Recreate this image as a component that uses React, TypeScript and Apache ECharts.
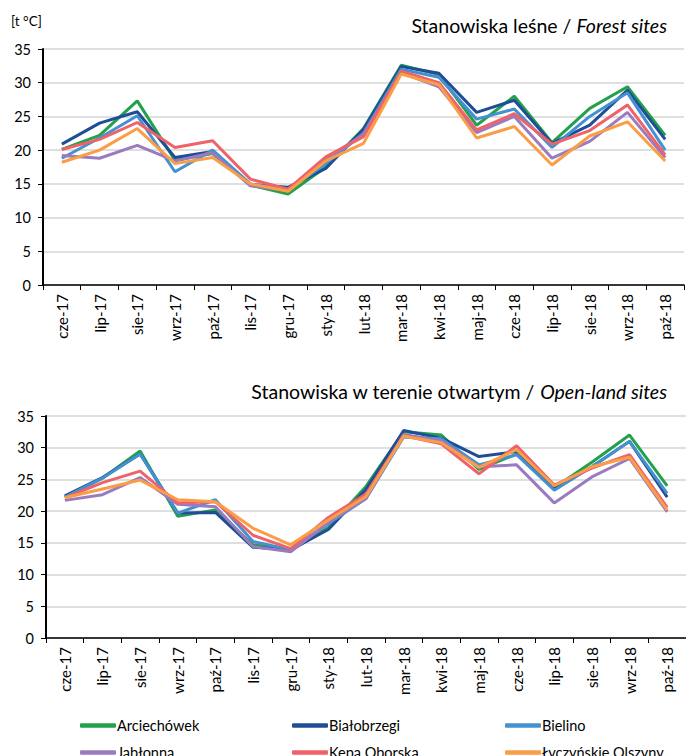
import React, { useEffect, useRef } from "react";
import * as echarts from "echarts";

const categories = [
  "cze-17", "lip-17", "sie-17", "wrz-17", "paź-17", "lis-17", "gru-17", "sty-18", "lut-18",
  "mar-18", "kwi-18", "maj-18", "cze-18", "lip-18", "sie-18", "wrz-18", "paź-18",
];

const siteNames = ["Arciechówek", "Białobrzegi", "Bielino", "Jabłonna", "Kępa Oborska", "Łyczyńskie Olszyny"];
const siteColors = ["#22A04B", "#1F4E96", "#4391D0", "#9A7BBF", "#F0626A", "#F99D47"];

// Forest sites
const forestArciechowek = [20.1, 22.2, 27.3, 18.5, 19.5, 14.8, 13.5, 17.5, 23.2, 32.6, 31.2, 23.7, 28.0, 21.1, 26.2, 29.4, 22.2];
const forestBialobrzegi = [20.9, 24.0, 25.7, 18.9, 19.8, 14.9, 14.5, 17.3, 23.1, 32.4, 31.4, 25.6, 27.4, 21.0, 23.7, 28.9, 21.6];
const forestBielino = [18.8, 21.8, 25.1, 16.8, 20.0, 15.0, 14.1, 18.0, 22.5, 32.0, 30.8, 24.6, 26.1, 20.4, 25.0, 28.5, 20.0];
const forestJablonna = [19.2, 18.8, 20.7, 18.4, 19.6, 14.7, 14.0, 18.7, 22.3, 31.5, 29.4, 22.6, 25.0, 18.8, 21.3, 25.6, 18.9];
const forestKepa = [20.1, 21.6, 24.1, 20.4, 21.4, 15.7, 14.2, 19.0, 22.0, 31.7, 30.0, 23.0, 25.4, 20.9, 22.9, 26.7, 19.3];
const forestLyczynskie = [18.2, 20.0, 23.2, 18.0, 18.9, 15.0, 13.9, 18.4, 21.0, 31.3, 29.7, 21.8, 23.5, 17.8, 22.1, 24.2, 18.4];

// Open-land sites
const openArciechowek = [22.2, 25.2, 29.5, 19.2, 20.2, 14.7, 13.9, 17.4, 23.9, 32.5, 32.0, 26.6, 29.0, 23.7, 27.7, 32.0, 24.0];
const openBialobrzegi = [22.4, 25.3, 29.0, 19.7, 19.8, 14.3, 13.9, 17.1, 23.4, 32.7, 31.5, 28.6, 29.4, 23.7, 27.0, 31.0, 22.2];
const openBielino = [22.2, 25.2, 29.0, 19.7, 21.8, 15.2, 13.9, 18.0, 22.0, 31.7, 31.4, 27.3, 28.9, 23.3, 27.0, 31.0, 22.8];
const openJablonna = [21.7, 22.6, 25.3, 21.1, 20.7, 14.4, 13.6, 18.2, 22.0, 32.1, 31.1, 27.0, 27.3, 21.3, 25.4, 28.3, 19.9];
const openKepa = [22.1, 24.5, 26.3, 21.3, 21.5, 16.2, 14.1, 19.0, 22.7, 31.9, 30.6, 25.9, 30.3, 24.1, 26.8, 28.9, 20.6];
const openLyczynskie = [22.1, 23.5, 24.9, 21.8, 21.5, 17.3, 14.7, 18.6, 22.3, 31.8, 30.8, 26.9, 29.7, 24.0, 27.0, 28.5, 20.2];

const forestData = [forestArciechowek, forestBialobrzegi, forestBielino, forestJablonna, forestKepa, forestLyczynskie];
const openData = [openArciechowek, openBialobrzegi, openBielino, openJablonna, openKepa, openLyczynskie];

const titleTop = "Stanowiska leśne / {i|Forest sites}";
const titleBottom = "Stanowiska w terenie otwartym / {i|Open-land sites}";
const yUnit = "[t °C]";

const FONT = "Lato";

export default function App() {
  const ref = useRef<HTMLDivElement>(null);
  useEffect(() => {
    document.body.style.margin = "0";
    const chart = echarts.init(ref.current!, null, { renderer: "svg" });

    const xAxisBase = (gridIndex: number) => ({
      type: "category",
      gridIndex,
      data: categories,
      boundaryGap: true,
      axisLine: { show: true, lineStyle: { color: "#000", width: 1.5 } },
      axisTick: { show: true, interval: 0, length: 5, lineStyle: { color: "#000", width: 1 } },
      axisLabel: { interval: 0, rotate: 90, color: "#000", fontFamily: FONT, fontSize: 15, margin: 9 },
      splitLine: { show: false },
    });
    const yAxisBase = (gridIndex: number) => ({
      type: "value",
      gridIndex,
      min: 0,
      max: 35,
      interval: 5,
      axisLine: { show: true, lineStyle: { color: "#000", width: 2 } },
      axisTick: { show: true, length: 5, lineStyle: { color: "#000", width: 1 } },
      axisLabel: { color: "#000", fontFamily: FONT, fontSize: 14.5, margin: 12 },
      splitLine: { show: true, lineStyle: { color: "#D4D4D4", width: 1.5 } },
    });

    const series: any[] = [];
    [forestData, openData].forEach((group, gi) => {
      group.forEach((vals, si) => {
        series.push({
          type: "line",
          name: siteNames[si],
          xAxisIndex: gi,
          yAxisIndex: gi,
          data: vals,
          symbol: "none",
          lineStyle: { color: siteColors[si], width: 3 },
          itemStyle: { color: siteColors[si] },
        });
      });
    });

    const legendBase = (left: number, names: string[]) => ({
      orient: "vertical",
      left,
      top: 713,
      height: 80,
      itemWidth: 36,
      itemHeight: 4.5,
      itemGap: 12,
      icon: "roundRect",
      data: names,
      textStyle: { color: "#000", fontFamily: FONT, fontSize: 14.5, padding: [0, 0, 0, -4] },
      selectedMode: false,
    });

    const titleStyle = {
      color: "#000", fontFamily: FONT, fontSize: 19.5, fontWeight: "normal",
      rich: { i: { fontStyle: "italic", fontFamily: FONT, fontSize: 19.5, color: "#000" } },
    };

    chart.setOption({
      animation: false,
      backgroundColor: "#fff",
      title: [
        { text: titleTop, right: 14, top: 10, textStyle: titleStyle },
        { text: titleBottom, right: 14, top: 376, textStyle: titleStyle },
      ],
      graphic: [
        {
          type: "text",
          left: 11,
          top: 14,
          style: { text: yUnit, fill: "#000", fontFamily: FONT, fontSize: 13.5 },
        },
      ],
      legend: [
        legendBase(75, [siteNames[0], siteNames[3]]),
        legendBase(287, [siteNames[1], siteNames[4]]),
        legendBase(500, [siteNames[2], siteNames[5]]),
      ],
      grid: [
        { left: 43, top: 49, width: 641, height: 236 },
        { left: 46, top: 416, width: 640, height: 222 },
      ],
      xAxis: [xAxisBase(0), xAxisBase(1)],
      yAxis: [yAxisBase(0), yAxisBase(1)],
      series,
    });
    return () => chart.dispose();
  }, []);
  return <div ref={ref} style={{ width: 686, height: 756 }} />;
}
